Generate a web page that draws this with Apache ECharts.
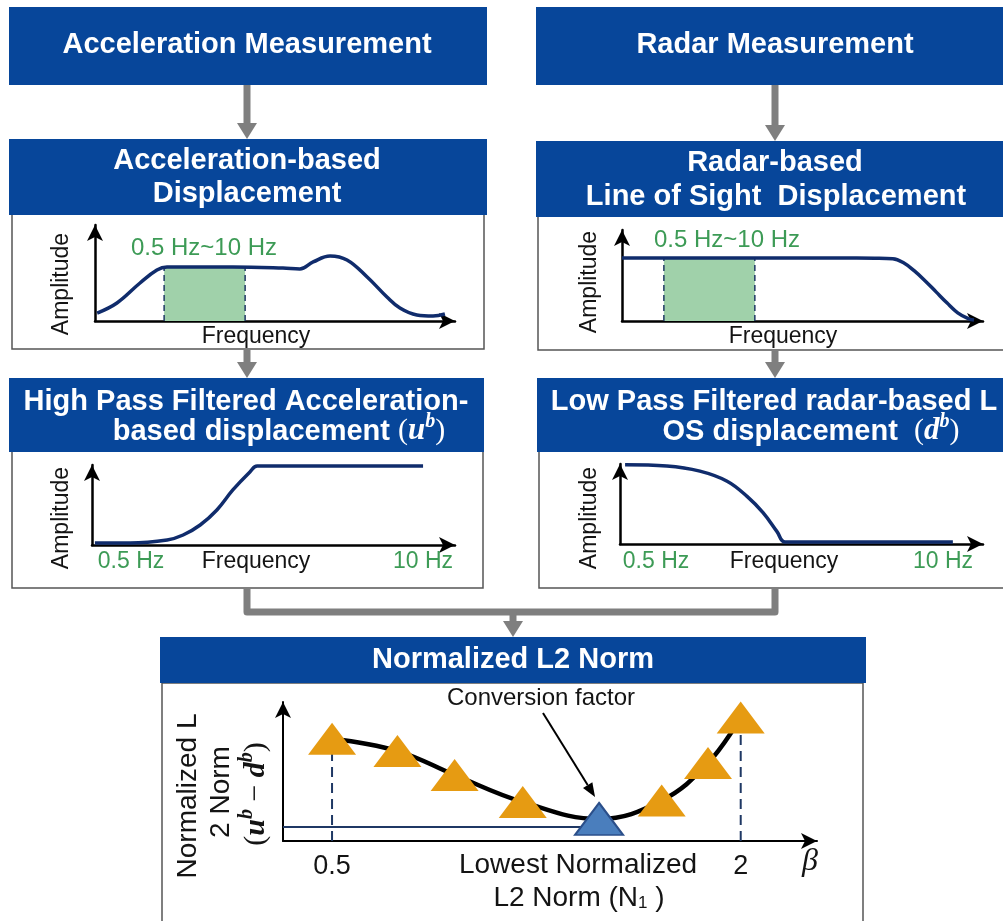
<!DOCTYPE html>
<html><head><meta charset="utf-8">
<script src="https://cdn.jsdelivr.net/npm/echarts@6/dist/echarts.min.js"></script>
<style>html,body{margin:0;padding:0;background:#fff}#c{width:1003px;height:921px}</style>
</head><body><div id="c"></div>
<script>
// ---------------- data ----------------
// Acceleration-based displacement spectrum (frequency 0-100 of axis, amplitude 0-100)
const accelFreq = [0.6, 6.1, 12.5, 17.2, 20, 38.3, 52.2, 56.9, 60.6, 65.3, 70, 75.6, 81.1, 84.7, 89.4, 93.9, 97.2];
const accelAmp  = [8.3, 18.8, 39.6, 53.1, 56.3, 56.3, 55.2, 54.2, 61.5, 67.7, 63.5, 45.8, 25, 13.5, 6.3, 5.2, 7.3];
const accelBand = [19.2, 41.7];
const accelBandLevel = 56.3;
// Radar-based LOS displacement spectrum
const radarFreq = [0, 15, 30, 45, 60, 70, 75, 78, 81, 84, 87, 90, 93, 96, 97.5];
const radarAmp  = [69.2, 69.2, 69.2, 69.2, 69.2, 69.0, 68.5, 64, 55, 44, 32, 20, 9, 2.5, 1];
const radarBand = [11.6, 36.8];
const radarBandLevel = 69.2;
// High pass filtered acceleration-based displacement
const hpFreq = [0.8, 10.5, 20.7, 25.1, 29.8, 34.4, 38.8, 43.5, 45.5, 91.2];
const hpAmp  = [2.5, 2.5, 6.3, 12.5, 25, 43.8, 68.8, 91.3, 98.8, 98.8];
// Low pass filtered radar-based displacement
const lpFreq = [1.4, 12.9, 22, 29.5, 35, 39.4, 43.3, 45.5, 91.7];
const lpAmp  = [99, 97.5, 91.1, 78.5, 59.5, 39.2, 15.2, 2.5, 2.5];
// Normalized L2 norm vs conversion factor beta
const beta = [0.5, 0.74, 0.95, 1.2, 1.48, 1.71, 1.88, 2.0];
const normL2 = [1.03, 0.906, 0.665, 0.393, 0.222, 0.408, 0.785, 1.244];
const minIndex = 4;
const minLevel = 0.14;
const betaTicks = [0.5, 2];
const betaTickLabels = ['0.5', '2'];

// ---------------- styles ----------------
const SANS = '"Liberation Sans", Arial, sans-serif';
const SERIF = '"Liberation Serif", "DejaVu Serif", serif';
const BLUE = '#07469a';
const NAVY = '#102c6c';
const NAVY_D = '#1f3864';
const GREEN_FILL = '#a0d1aa';
const GREEN_TXT = '#3d9b56';
const GRAY = '#7f7f7f';
const ORANGE = '#e69b12';
const TXT = '#141414';

const zip = (xs, ys) => xs.map((x, i) => [x, ys[i]]);

function axisLine(w) {
  return { show: true, onZero: false, symbol: ['none', 'arrow'], symbolSize: [12, 16], symbolOffset: [0, 0],
           lineStyle: { color: '#000', width: w } };
}
function valAxis(gi, min, max, w, extra) {
  return Object.assign({ type: 'value', gridIndex: gi, min: min, max: max, axisLine: axisLine(w),
    axisTick: { show: false }, axisLabel: { show: false }, splitLine: { show: false } }, extra || {});
}
const grids = [
  { left: 95,  top: 225, width: 360, height: 96 },
  { left: 622, top: 230, width: 361, height: 91 },
  { left: 92,  top: 465, width: 363, height: 80 },
  { left: 620, top: 464, width: 363, height: 80 },
  { left: 283, top: 702, width: 534, height: 139 }
].map(g => Object.assign({ containLabel: false, outerBoundsMode: 'none' }, g));

const xAxes = [0, 1, 2, 3].map(i => valAxis(i, 0, 100, 2.5));
const yAxes = [0, 1, 2, 3].map(i => valAxis(i, 0, 100, 2.5));
xAxes.push(valAxis(4, 0.32, 2.28, 2, {
  axisLabel: { show: true, customValues: betaTicks, formatter: v => betaTickLabels[betaTicks.indexOf(v)],
               fontSize: 27, color: TXT, fontFamily: SANS, margin: 12 }
}));
yAxes.push(valAxis(4, 0, 1.4, 2));

function curve(i, xs, ys) {
  return { type: 'line', xAxisIndex: i, yAxisIndex: i, data: zip(xs, ys), smooth: 0.4,
           symbol: 'none', lineStyle: { color: NAVY, width: 3.5 }, z: 5, silent: true };
}
function band(i, b, lvl) {
  return { type: 'line', xAxisIndex: i, yAxisIndex: i, data: [[b[0], lvl], [b[1], lvl]], symbol: 'none',
           lineStyle: { width: 0 }, areaStyle: { color: GREEN_FILL, opacity: 1, origin: 'start' }, z: 1, silent: true };
}
function vdash(i, x, y0, y1, color, width, dash, z) {
  return { type: 'line', xAxisIndex: i, yAxisIndex: i, data: [[x, y0], [x, y1]], symbol: 'none',
           lineStyle: { color: color, width: width, type: dash }, z: z, silent: true };
}

const series = [
  band(0, accelBand, accelBandLevel),
  vdash(0, accelBand[0], 0, accelBandLevel, NAVY_D, 1.5, [6, 4], 3),
  vdash(0, accelBand[1], 0, accelBandLevel, NAVY_D, 1.5, [6, 4], 3),
  curve(0, accelFreq, accelAmp),
  band(1, radarBand, radarBandLevel),
  vdash(1, radarBand[0], 0, radarBandLevel, NAVY_D, 1.5, [6, 4], 3),
  vdash(1, radarBand[1], 0, radarBandLevel, NAVY_D, 1.5, [6, 4], 3),
  curve(1, radarFreq, radarAmp),
  curve(2, hpFreq, hpAmp),
  curve(3, lpFreq, lpAmp),
  vdash(4, beta[0], 0, normL2[0], NAVY_D, 2, [10, 6], 2),
  vdash(4, beta[beta.length - 1], 0, normL2[beta.length - 1], NAVY_D, 2, [10, 6], 2),
  { type: 'line', xAxisIndex: 4, yAxisIndex: 4, data: [[0.32, minLevel], [beta[minIndex], minLevel]], symbol: 'none',
    lineStyle: { color: NAVY_D, width: 2 }, z: 2, silent: true },
  { type: 'line', xAxisIndex: 4, yAxisIndex: 4, data: zip(beta, normL2), smooth: 0.4, symbol: 'none',
    lineStyle: { color: '#000', width: 4.5 }, z: 3, silent: true },
  { type: 'scatter', xAxisIndex: 4, yAxisIndex: 4, symbol: 'triangle', symbolSize: [48, 32], z: 4, silent: true,
    itemStyle: { color: ORANGE, opacity: 1 },
    data: zip(beta, normL2).map((p, i) => i === minIndex
      ? { value: p, itemStyle: { color: '#4a7ebd', borderColor: '#2b4f8a', borderWidth: 2 } } : { value: p }) }
];

const chart = echarts.init(document.getElementById('c'), null, { renderer: 'canvas' });
chart.setOption({ backgroundColor: '#fff', animation: false, grid: grids, xAxis: xAxes, yAxis: yAxes, series: series });

// ---------------- graphic (boxes, arrows, text) ----------------
const G = [];
function rect(x, y, w, h, fill, stroke, z) {
  G.push({ type: 'rect', shape: { x: x, y: y, width: w, height: h }, z: z,
           style: { fill: fill, stroke: stroke || null, lineWidth: stroke ? 1.5 : 0 } });
}
function text(t, x, y, o) {
  o = o || {};
  G.push({ type: 'text', x: x, y: y, rotation: o.rot || 0, z: o.z || 20,
    style: { text: t, fill: o.color || TXT, fontSize: o.size || 23, fontWeight: o.weight || 'normal',
             fontStyle: o.style || 'normal', fontFamily: o.family || SANS,
             align: o.align || 'center', verticalAlign: 'middle', textAlign: o.align || 'center', textVerticalAlign: 'middle',
             rich: o.rich } });
}
// sequence of text pieces (for math with superscripts), centred at (cx, cy)
const mctx = document.createElement('canvas').getContext('2d');
function fontStr(p) { return (p.style || 'normal') + ' ' + (p.weight || 'normal') + ' ' + p.size + 'px ' + p.family; }
function seq(parts, cx, cy, rot, color) {
  const widths = parts.map(p => { mctx.font = fontStr(p); return mctx.measureText(p.t).width; });
  const total = widths.reduce((a, b) => a + b, 0);
  const c = Math.cos(rot), s = Math.sin(rot);
  const dir = [c, -s], up = [-s, -c];
  let off = -total / 2;
  parts.forEach((p, i) => {
    const u = -10 + (p.rise || 0) + 0.36 * p.size;
    text(p.t, cx + dir[0] * off + up[0] * u, cy + dir[1] * off + up[1] * u,
         { rot: rot, align: 'left', size: p.size, family: p.family, weight: p.weight, style: p.style, color: color });
    off += widths[i];
  });
}
function arrowDown(x, y1, y2) {
  G.push({ type: 'rect', shape: { x: x - 3.5, y: y1, width: 7, height: y2 - y1 - 14 }, z: 10, style: { fill: GRAY } });
  G.push({ type: 'polygon', shape: { points: [[x - 10, y2 - 16], [x + 10, y2 - 16], [x, y2]] }, z: 10, style: { fill: GRAY } });
}
const head = (t, x, y) => text(t, x, y, { color: '#fff', size: 29, weight: 'bold' });

// top headers
rect(9, 7, 478, 78, BLUE, null, 12); head('Acceleration Measurement', 247, 45);
rect(536, 7, 480, 78, BLUE, null, 12); head('Radar Measurement', 775, 45);
arrowDown(247, 85, 139); arrowDown(775, 85, 141);
// second row
rect(12, 214, 472, 135, '#fff', '#555', 0);
rect(538, 216, 475, 134, '#fff', '#555', 0);
rect(9, 139, 478, 76, BLUE, null, 12); head('Acceleration-based', 247, 161); head('Displacement', 247, 194);
rect(536, 141, 480, 76, BLUE, null, 12); head('Radar-based', 775, 163); head('Line of Sight  Displacement', 776, 197);
text('0.5 Hz~10 Hz', 204, 248, { color: GREEN_TXT, size: 24 });
text('Amplitude', 62, 284, { rot: Math.PI / 2 });
text('Frequency', 256, 337);
text('0.5 Hz~10 Hz', 727, 240, { color: GREEN_TXT, size: 24 });
text('Amplitude', 590, 282, { rot: Math.PI / 2 });
text('Frequency', 783, 337);
arrowDown(247, 349, 378); arrowDown(775, 350, 378);
// third row
rect(12, 451, 471, 137, '#fff', '#555', 0);
rect(539, 451, 474, 137, '#fff', '#555', 0);
rect(9, 378, 475, 74, BLUE, null, 12);
rect(537, 378, 480, 74, BLUE, null, 12);
head('High Pass Filtered Acceleration-', 246, 402);
head('Low Pass Filtered radar-based L', 774, 402);
const hb = { size: 29, family: SANS, weight: 'bold' };
const mp = { size: 30, family: SERIF };
const mi = { size: 31, family: SERIF, weight: 'bold', style: 'italic' };
const ms = { size: 20, family: SERIF, weight: 'bold', style: 'italic', rise: 13 };
seq([Object.assign({ t: 'based displacement ' }, hb), Object.assign({ t: '(' }, mp), Object.assign({ t: 'u' }, mi),
     Object.assign({ t: 'b' }, ms), Object.assign({ t: ')' }, mp)], 279, 432, 0, '#fff');
seq([Object.assign({ t: 'OS displacement  ' }, hb), Object.assign({ t: '(' }, mp), Object.assign({ t: 'd' }, mi),
     Object.assign({ t: 'b' }, ms), Object.assign({ t: ')' }, mp)], 811, 432, 0, '#fff');
text('Amplitude', 62, 518, { rot: Math.PI / 2 });
text('0.5 Hz', 131, 562, { color: GREEN_TXT });
text('Frequency', 256, 562);
text('10 Hz', 423, 562, { color: GREEN_TXT });
text('Amplitude', 590, 518, { rot: Math.PI / 2 });
text('0.5 Hz', 656, 562, { color: GREEN_TXT });
text('Frequency', 784, 562);
text('10 Hz', 943, 562, { color: GREEN_TXT });
// connector
G.push({ type: 'polyline', z: 10, shape: { points: [[247, 588], [247, 612], [775, 612], [775, 588]] },
         style: { stroke: GRAY, lineWidth: 7, fill: null, lineJoin: 'round' } });
arrowDown(513, 612, 637);
// bottom panel
rect(162, 683, 701, 250, '#fff', '#555', 0);
rect(160, 637, 706, 46, BLUE, null, 12); head('Normalized L2 Norm', 513, 660);
text('Normalized L', 188, 796, { rot: Math.PI / 2, size: 28 });
text('2 Norm', 221, 792, { rot: Math.PI / 2, size: 28 });
const dp = { size: 30, family: SERIF };
const di = { size: 30, family: SERIF, weight: 'bold', style: 'italic' };
const ds = { size: 20, family: SERIF, weight: 'bold', style: 'italic', rise: 13 };
seq([Object.assign({ t: '(' }, dp), Object.assign({ t: 'u' }, di), Object.assign({ t: 'b' }, ds),
     Object.assign({ t: ' − ' }, dp), Object.assign({ t: 'd' }, di), Object.assign({ t: 'b' }, ds),
     Object.assign({ t: ')' }, dp)], 257, 794, Math.PI / 2, TXT);
text('β', 810, 862, { family: SERIF, style: 'italic', size: 32 });
text('Lowest Normalized', 578, 865, { size: 28 });
text('L2 Norm (N{sub|1} )', 579, 898, { size: 28, rich: { sub: { fontSize: 17, fontFamily: SANS, fill: TXT, color: TXT, verticalAlign: 'bottom' } } });
text('Conversion factor', 541, 698, { size: 24 });

// annotation arrow pointing at the lowest point
const tip = chart.convertToPixel({ gridIndex: 4 }, [beta[minIndex], normL2[minIndex]]);
const aEnd = [tip[0] - 4, tip[1] - 22];
const aStart = [543, 713];
const ang = Math.atan2(aEnd[1] - aStart[1], aEnd[0] - aStart[0]);
const hl = 14, hw = 5.5;
const base = [aEnd[0] - hl * Math.cos(ang), aEnd[1] - hl * Math.sin(ang)];
G.push({ type: 'line', z: 20, shape: { x1: aStart[0], y1: aStart[1], x2: base[0], y2: base[1] }, style: { stroke: '#000', lineWidth: 2 } });
G.push({ type: 'polygon', z: 20, shape: { points: [aEnd,
  [base[0] + hw * Math.sin(ang), base[1] - hw * Math.cos(ang)],
  [base[0] - hw * Math.sin(ang), base[1] + hw * Math.cos(ang)]] }, style: { fill: '#000' } });

chart.setOption({ graphic: G });
</script></body></html>
